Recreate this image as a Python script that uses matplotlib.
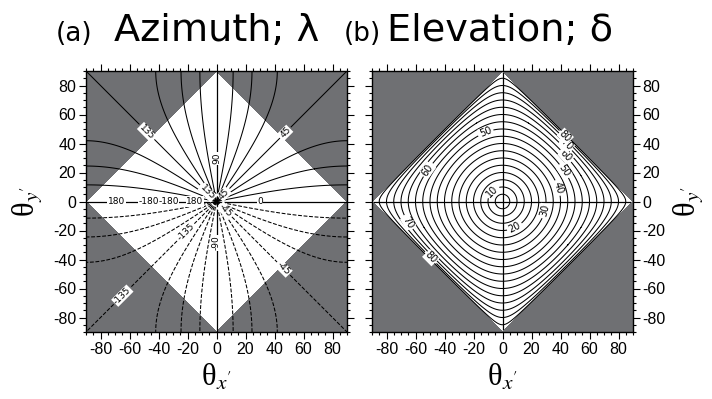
import numpy as np
import matplotlib
matplotlib.use("Agg")
import matplotlib.pyplot as plt
from matplotlib.ticker import MultipleLocator

# angle grid (deg)
ANGLES = np.linspace(-90, 90, 721)

# azimuth contour levels (every 11.25 deg, axes drawn separately)
AZ_POS_LEVELS = [11.25, 22.5, 33.75, 45, 56.25, 67.5, 78.75,
                 101.25, 112.5, 123.75, 135, 146.25, 157.5, 168.75]
AZ_NEG_LEVELS = [-v for v in AZ_POS_LEVELS[::-1]]
AZ_POS_LABELED = [45, 135]
AZ_NEG_LABELED = [-135, -45]

# elevation contour levels
EL_LEVELS = list(range(5, 90, 5))
EL_LABELED = [10, 20, 30, 40, 50, 60, 70, 80]

TICKS = [-80, -60, -40, -20, 0, 20, 40, 60, 80]

GREY = "#6f7073"

# label placements (data coords)
AZ_POS_LABEL_AT = [(-48, 48), (48, 47), (-6.8, 5.6), (5.9, 4.5)]
AZ_NEG_LABEL_AT = [(-21.7, -20.8), (46.6, -46), (5.9, -6.3), (-65.4, -64.5)]
AZ_AXIS_LABELS = [("90", 0, 29.8, 90), ("-90", 0, -28.4, 90), ("0", 30, 0, 0),
                  ("180", -69, 0, 0), ("-180", -47, 0, 0), ("-180", -33, 0, 0),
                  ("180", -15, 0, 0)]
EL_LABEL_AT = [(-6.8, 6.8), (8.2, -17.4), (29.3, -6.3), (37.4, 9.1),
               (41.9, 20.6), (42.6, 30.5), (43.1, 38.3), (42.6, 44.3),
               (-11.4, 47), (-51.2, 21.7), (-66.1, -15), (-50, -39.2)]

plt.rcParams["mathtext.fontset"] = "stix"
plt.rcParams["axes.unicode_minus"] = False

LBL_BOX = dict(facecolor="white", edgecolor="none", pad=0.4)


def style_axes(ax, right=False):
    ax.set_xlim(-90, 90)
    ax.set_ylim(-90, 90)
    ax.set_xticks(TICKS)
    ax.set_yticks(TICKS)
    ax.xaxis.set_minor_locator(MultipleLocator(5))
    ax.yaxis.set_minor_locator(MultipleLocator(5))
    ax.tick_params(which="both", direction="out", top=True, bottom=True,
                   left=True, right=True, width=0.8, labelsize=11.5,
                   labelleft=not right, labelright=right, pad=2)
    ax.tick_params(which="major", length=5)
    ax.tick_params(which="minor", length=2.5)
    for lab in ax.get_xticklabels() + ax.get_yticklabels():
        lab.set_family("Liberation Sans")
    for sp in ax.spines.values():
        sp.set_linewidth(1.0)
    ax.set_xlabel("θ$_{x'}$", family="Liberation Serif", fontsize=22, labelpad=4)
    if right:
        ax.yaxis.set_label_position("right")
        ax.set_ylabel("θ$_{y'}$", family="Liberation Serif", fontsize=22,
                      labelpad=4, rotation=90)
    else:
        ax.set_ylabel("θ$_{y'}$", family="Liberation Serif", fontsize=22,
                      labelpad=6)


def split_contour(ax, X, Y, Z, levels, labeled, style, label_at, fs):
    plain = [v for v in levels if v not in labeled]
    kw = dict(colors="black", linewidths=0.75, linestyles=style, zorder=2)
    if plain:
        ax.contour(X, Y, Z, levels=plain, **kw)
    cs = ax.contour(X, Y, Z, levels=labeled, **kw)
    texts = ax.clabel(cs, manual=label_at, fmt="%d", fontsize=fs,
                      inline=True, inline_spacing=2)
    for t in texts:
        t.set_bbox(LBL_BOX)
        t.set_zorder(3)


def main():
    X, Y = np.meshgrid(ANGLES, ANGLES)
    sx = np.sin(np.radians(X))
    sy = np.sin(np.radians(Y))
    s = sx ** 2 + sy ** 2

    fig = plt.figure(figsize=(7.12, 3.99), dpi=100)
    ax1 = fig.add_axes([86 / 712, 67 / 399, 261 / 712, 261 / 399])
    ax2 = fig.add_axes([372 / 712, 67 / 399, 261 / 712, 261 / 399])

    # (a) azimuth
    ax1.contourf(X, Y, s, levels=[1.0, 2.5], colors=[GREY], zorder=0.5)
    ax1.axhline(0, color="black", lw=0.9, zorder=1.5)
    ax1.axvline(0, color="black", lw=0.9, zorder=1.5)

    top = ANGLES >= 0
    Xt, Yt = np.meshgrid(ANGLES, ANGLES[top])
    lam_t = np.degrees(np.arctan2(np.sin(np.radians(Yt)), np.sin(np.radians(Xt))))
    split_contour(ax1, Xt, Yt, lam_t, AZ_POS_LEVELS, AZ_POS_LABELED, "solid",
                  AZ_POS_LABEL_AT, 6.5)

    bot = ANGLES <= 0
    Xb, Yb = np.meshgrid(ANGLES, ANGLES[bot])
    lam_b = np.degrees(np.arctan2(np.sin(np.radians(Yb)), np.sin(np.radians(Xb))))
    lam_b = np.where(lam_b > 0, -lam_b, lam_b)
    split_contour(ax1, Xb, Yb, lam_b, AZ_NEG_LEVELS, AZ_NEG_LABELED, "dashed",
                  AZ_NEG_LABEL_AT, 6.5)

    for txt, x, y, rot in AZ_AXIS_LABELS:
        ax1.text(x, y, txt, fontsize=6.5, rotation=rot, ha="center",
                 va="center", bbox=LBL_BOX, zorder=3)
    style_axes(ax1)

    # (b) elevation
    delta = np.where(s <= 1, np.degrees(np.arcsin(np.sqrt(np.clip(s, 0, 1)))),
                     np.nan)
    ax2.axhline(0, color="black", lw=0.9, zorder=0.3)
    ax2.axvline(0, color="black", lw=0.9, zorder=0.3)
    ax2.contourf(X, Y, s, levels=[1.0, 2.5], colors=[GREY], zorder=0.5)
    split_contour(ax2, X, Y, delta, EL_LEVELS, EL_LABELED, "solid",
                  EL_LABEL_AT, 7)
    style_axes(ax2, right=True)

    # titles
    base = 1 - 41 / 399
    fig.text(56 / 712, base, "(a)", fontsize=19, va="baseline")
    fig.text(114 / 712, base, "Azimuth; λ", fontsize=27.5, va="baseline")
    fig.text(344 / 712, base, "(b)", fontsize=19, va="baseline")
    fig.text(387 / 712, base, "Elevation; δ", fontsize=27.5, va="baseline")

    fig.savefig("out.png", dpi=100)


if __name__ == "__main__":
    main()
